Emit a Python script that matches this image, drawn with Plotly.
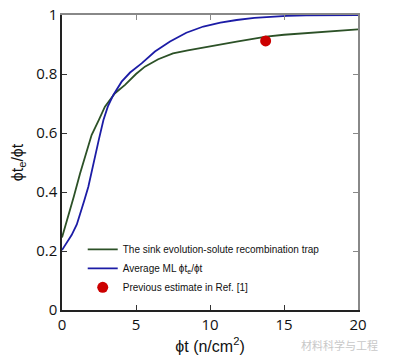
import plotly.graph_objects as go

# Sink evolution-solute recombination trap (green)
green_x = [0, 0.2, 0.43, 0.8, 1.22, 1.55, 2.0, 2.5, 2.9, 3.58, 4.26, 5.0, 5.6, 6.5, 7.5,
           8.5, 9.55, 10.5, 11.8, 12.8, 13.8, 15.0, 16.3, 17.5, 18.7, 20.0]
green_y = [0.246, 0.28, 0.316, 0.385, 0.463, 0.52, 0.593, 0.645, 0.689, 0.735, 0.763, 0.80,
           0.825, 0.85, 0.87, 0.88, 0.89, 0.90, 0.91, 0.918, 0.927, 0.933, 0.938, 0.942, 0.946, 0.951]

# Average ML (blue)
blue_x = [0, 0.3, 0.65, 1.0, 1.22, 1.5, 1.78, 2.12, 2.5, 2.8, 3.1, 3.47, 4.03, 4.6, 5.38,
          6.28, 7.3, 8.4, 9.55, 10.7, 11.8, 13.0, 14.05, 15.2, 16.5, 18.0, 20.0]
blue_y = [0.203, 0.225, 0.254, 0.29, 0.322, 0.37, 0.418, 0.50, 0.58, 0.644, 0.69, 0.729,
          0.774, 0.805, 0.836, 0.876, 0.91, 0.94, 0.961, 0.974, 0.983, 0.99, 0.994, 0.997,
          0.999, 1.0, 1.0]

# Previous estimate
prev_x = [13.76]
prev_y = [0.912]

x_ticks = [0, 5, 10, 15, 20]
y_ticks = [0, 0.2, 0.4, 0.6, 0.8, 1]
y_tick_text = ["0", "0.2", "0.4", "0.6", "0.8", "1"]

fig = go.Figure()
fig.add_trace(go.Scatter(x=green_x, y=green_y, mode="lines",
                         line=dict(color="#2c5127", width=1.8),
                         name="The sink evolution-solute recombination trap"))
fig.add_trace(go.Scatter(x=blue_x, y=blue_y, mode="lines",
                         line=dict(color="#1c1ca6", width=1.8),
                         name="Average ML ϕt<sub>e</sub>/ϕt"))
fig.add_trace(go.Scatter(x=prev_x, y=prev_y, mode="markers",
                         marker=dict(color="#cc0000", size=11),
                         name="Previous estimate in Ref. [1]"))

tick_font = dict(family="Open Sans, Liberation Sans, sans-serif", size=15, color="#111")

fig.update_layout(
    width=385, height=355,
    margin=dict(l=54, r=35, t=7, b=53, autoexpand=False),
    paper_bgcolor="white", plot_bgcolor="white",
    showlegend=True,
    legend=dict(x=0.07, y=0.255, xanchor="left", yanchor="top",
                bgcolor="rgba(0,0,0,0)",
                font=dict(family="Liberation Sans, Arial, sans-serif", size=10, color="#111"),
                tracegroupgap=0),
    xaxis=dict(range=[0, 20], tickvals=x_ticks, ticks="inside", ticklen=5,
               tickcolor="#333", showline=True, linecolor="#222", linewidth=1.5,
               showgrid=False, zeroline=False, tickfont=tick_font, automargin=False,
               ticklabeloverflow="allow",
               title=dict(text="ϕt (n/cm<sup>2</sup>)", standoff=8,
                          font=dict(family="Liberation Sans, Arial, sans-serif", size=16, color="#111"))),
    yaxis=dict(range=[0, 1], tickvals=y_ticks, ticktext=y_tick_text, ticks="inside", ticklen=5,
               tickcolor="#333", showline=True, linecolor="#222", linewidth=1.5,
               showgrid=False, zeroline=False, tickfont=tick_font, automargin=False,
               ticklabeloverflow="allow",
               title=dict(text="ϕt<sub>e</sub>/ϕt", standoff=9,
                          font=dict(family="Liberation Sans, Arial, sans-serif", size=16, color="#111"))),
    xaxis2=dict(range=[0, 20], overlaying="x", side="top", tickvals=x_ticks[1:-1],
                ticks="inside", ticklen=5, tickcolor="#888", showticklabels=False,
                showline=True, linecolor="#888", linewidth=1.5, showgrid=False, zeroline=False,
                automargin=False),
    yaxis2=dict(range=[0, 1], overlaying="y", side="right", tickvals=y_ticks[1:-1],
                ticks="inside", ticklen=5, tickcolor="#888", showticklabels=False,
                showline=True, linecolor="#888", linewidth=1.5, showgrid=False, zeroline=False,
                automargin=False),
)

# invisible trace to activate secondary axes
fig.add_trace(go.Scatter(x=[None], y=[None], xaxis="x2", yaxis="y2", showlegend=False,
                         hoverinfo="skip"))

fig.add_annotation(text="材料科学与工程", xref="paper", yref="paper", x=1.075, y=-0.12,
                   xanchor="right", yanchor="middle", showarrow=False,
                   font=dict(family="Noto Sans CJK SC", size=11, color="#c8c8c8"))

fig.write_html("out.html")
